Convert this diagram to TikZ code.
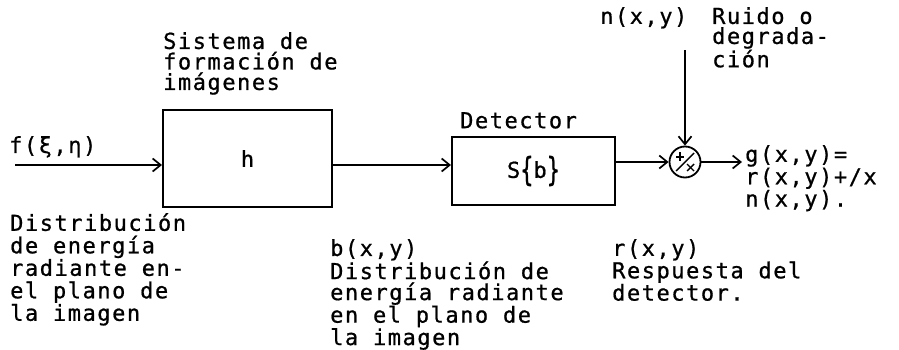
\documentclass[tikz,border=0pt]{standalone}
\usepackage{fontspec}
\newfontfamily\tw[LetterSpace=7,FakeBold=0.8]{DejaVu Sans Mono}
\newcommand\twsz[1]{\tw\fontsize{22}{#1}\selectfont}
\usetikzlibrary{arrows.meta}
\begin{document}
\begin{tikzpicture}[x=1pt,y=-1pt,
  txt/.style={anchor=north west, inner sep=0pt, align=left, font=\twsz{#1}},
  txt/.default=22,
  blk/.style={draw, line width=2pt, inner sep=0pt, font=\twsz{22}},
  conn/.style={line width=1.8pt, -{Straight Barb[length=8pt,width=13pt,line width=1.7pt]}},
  sumstroke/.style={line width=1.4pt}
]
\useasboundingbox (0,0) rectangle (899,350);
% blocks
\node[blk, minimum width=169pt, minimum height=97pt] (sys) at (247.5,158.5) {h};
\node[blk, minimum width=163pt, minimum height=68pt] (det) at (533.5,171) {S\raisebox{-3pt}{\scalebox{1}[1.5]{\{}}b\raisebox{-3pt}{\scalebox{1}[1.5]{\}}}};
\node[draw, circle, line width=1.8pt, minimum size=31pt, inner sep=0pt] (sum) at (685,162) {};
\draw[sumstroke] ([shift={(-9,9)}]sum.center) -- ([shift={(9,-9)}]sum.center);
\draw[sumstroke] ([shift={(-9,-5)}]sum.center) -- ([shift={(-1,-5)}]sum.center);
\draw[sumstroke] ([shift={(-5,-10)}]sum.center) -- ([shift={(-5,-1)}]sum.center);
\draw[sumstroke] ([shift={(2,2)}]sum.center) -- ([shift={(9,9)}]sum.center);
\draw[sumstroke] ([shift={(2,9)}]sum.center) -- ([shift={(9,2)}]sum.center);
% connectors
\coordinate (in) at (15,165);
\coordinate (gpt) at (742,162);
\coordinate (ntop) at (685,50);
\draw[conn] (in) -- (in -| sys.west);
\draw[conn] (sys.east |- in) -- (det.west |- in);
\draw[conn] (det.east |- sum.west) -- (sum.west);
\draw[conn] (sum.east) -- (gpt);
\draw[conn] (ntop) -- (sum.north);
% labels
\node[txt=20.5] (lsys) at (163,32) {Sistema de\\formación de\\imágenes};
\node[txt] (ldet) at (460,112) {Detector};
\node[txt] (lf) at (9,136) {f(ξ,η)};
\node[txt=22.5] (ldist) at (10,213) {Distribución\\de energía\\radiante en-\\el plano de\\la imagen};
\node[txt=21] (lb) at (330,239) {b(x,y)\\Distribución de\\energía radiante\\en el plano de\\la imagen};
\node[txt=21] (lr) at (612,239) {r(x,y)\\Respuesta del\\detector.};
\node[txt] (ln) at (600,7) {n(x,y)};
\node[txt=20] (lruido) at (712,7) {Ruido o\\degrada-\\ción};
\node[txt=19.5] (lg) at (745,145) {g(x,y)=\\r(x,y)+/x\\n(x,y).};
\end{tikzpicture}
\end{document}
